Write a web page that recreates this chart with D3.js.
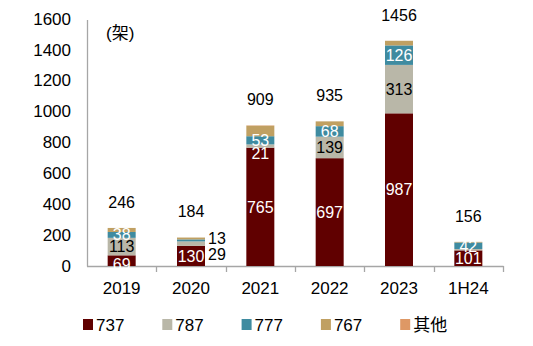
<!DOCTYPE html>
<html><head><meta charset="utf-8">
<script src="https://cdn.jsdelivr.net/npm/d3@7"></script>
<style>body{margin:0;background:#fff;}svg{display:block;}</style>
</head><body>
<svg id="chart" width="533" height="346"></svg>
<script>
const categories = ["2019","2020","2021","2022","2023","1H24"];
const s737 = [69,130,765,697,987,101];
const s787 = [113,29,21,139,313,9];
const s777 = [38,13,53,68,126,42];
const s767 = [26,12,68,31,30,4];
const sOther = [0,0,2,0,0,0];
const totals = [246,184,909,935,1456,156];
const seriesNames = ["737","787","777","767","其他"];
const yTicks = [0,200,400,600,800,1000,1200,1400,1600];
const colors = ["#600000","#B9B7A8","#3F8BA0","#C0A062","#DE9865"];

const svg = d3.select("#chart");
const x = d3.scaleBand().domain(categories).range([87,503]).paddingInner(0.6).paddingOuter(0.3);
const xb = d3.scaleBand().domain(categories).range([87,503]);
const y = d3.scaleLinear().domain([0,1600]).range([266,18.5]);
const font = "'Liberation Sans', Arial, sans-serif";

// y axis labels
svg.append("g").selectAll("text").data(yTicks).join("text")
  .attr("x",71).attr("y",d=>y(d)).attr("dy","0.36em").attr("text-anchor","end")
  .attr("font-family",font).attr("font-size",17).attr("fill","#000").text(d=>d);

// axes lines
svg.append("line").attr("x1",87.5).attr("x2",87.5).attr("y1",20).attr("y2",266.5).attr("stroke","#a6a6a6").attr("stroke-width",1.3);
svg.append("line").attr("x1",87).attr("x2",503.5).attr("y1",266.5).attr("y2",266.5).attr("stroke","#a6a6a6").attr("stroke-width",1.3);
svg.append("g").selectAll("line").data(categories.slice(1).concat(["end"])).join("line")
  .attr("x1",(d,i)=>Math.round(87+xb.step()*(i+1))+0.5).attr("x2",(d,i)=>Math.round(87+xb.step()*(i+1))+0.5)
  .attr("y1",266).attr("y2",272).attr("stroke","#a6a6a6").attr("stroke-width",1.3);

// stacked data
const rows = categories.map((c,i)=>({cat:c,"737":s737[i],"787":s787[i],"777":s777[i],"767":s767[i],"其他":sOther[i]}));
const stack = d3.stack().keys(seriesNames)(rows);
const bw = 28;
svg.append("g").selectAll("g").data(stack).join("g").attr("fill",(d,i)=>colors[i])
  .selectAll("rect").data(d=>d).join("rect")
  .attr("x",d=>xb(d.data.cat)+xb.bandwidth()/2-bw/2).attr("width",bw)
  .attr("y",d=>y(d[1])).attr("height",d=>Math.max(0,y(d[0])-y(d[1])));

// segment labels
const lblSize = 16;
function segLabel(si, color, skip){
  svg.append("g").selectAll("text").data(stack[si].filter((d,i)=>!skip.includes(i))).join("text")
    .attr("x",d=>xb(d.data.cat)+xb.bandwidth()/2)
    .attr("y",d=>{
      let cy=(y(d[0])+y(d[1]))/2;
      const ci=categories.indexOf(d.data.cat);
      if(si===0 && ci===0) cy=y(d[1])+9;
      if(si===1 && ci===2) cy=y(d[0])+6;
      if(si===2 && ci===0) cy=y(d[0])-4;
      if(si===2 && ci===5) cy=y(d[0])-3;
      if(si===0 && ci===5) cy=y(d[1])+8;
      return cy;})
    .attr("dy","0.36em").attr("text-anchor","middle")
    .attr("font-family",font).attr("font-size",lblSize).attr("fill",color)
    .text(d=>d[1]-d[0]);
}
segLabel(0,"#fff",[]);
segLabel(1,"#000",[1,2,5]);
segLabel(1,"#fff",[0,1,3,4,5]);
segLabel(2,"#fff",[1]);

// outside labels for 2020
const i20 = 1;
svg.append("text").attr("x",xb(categories[i20])+xb.bandwidth()/2+17).attr("y",238).attr("dy","0.36em")
  .attr("font-family",font).attr("font-size",lblSize).text(s777[i20]);
svg.append("text").attr("x",xb(categories[i20])+xb.bandwidth()/2+17).attr("y",254).attr("dy","0.36em")
  .attr("font-family",font).attr("font-size",lblSize).text(s787[i20]);

// totals
svg.append("g").selectAll("text").data(categories).join("text")
  .attr("x",d=>xb(d)+xb.bandwidth()/2).attr("y",(d,i)=>y(totals[i])-26).attr("dy","0.36em")
  .attr("text-anchor","middle").attr("font-family",font).attr("font-size",lblSize).text((d,i)=>totals[i]);

// category labels
svg.append("g").selectAll("text").data(categories).join("text")
  .attr("x",d=>xb(d)+xb.bandwidth()/2).attr("y",288).attr("dy","0.36em")
  .attr("text-anchor","middle").attr("font-family",font).attr("font-size",17).text(d=>d);

// unit
svg.append("text").attr("x",106).attr("y",33).attr("dy","0.36em").attr("font-family","'Liberation Sans','Noto Sans CJK SC',sans-serif").attr("font-size",17).text("(架)");

// legend
const lg = svg.append("g").selectAll("g").data(seriesNames).join("g")
  .attr("transform",(d,i)=>`translate(${83+i*79.3},0)`);
lg.append("rect").attr("x",0).attr("y",319).attr("width",10).attr("height",11).attr("fill",(d,i)=>colors[i]);
lg.append("text").attr("x",13).attr("y",325).attr("dy","0.36em").attr("font-family","'Liberation Sans','Noto Sans CJK SC',sans-serif").attr("font-size",17).text(d=>d);
</script>
</body></html>
